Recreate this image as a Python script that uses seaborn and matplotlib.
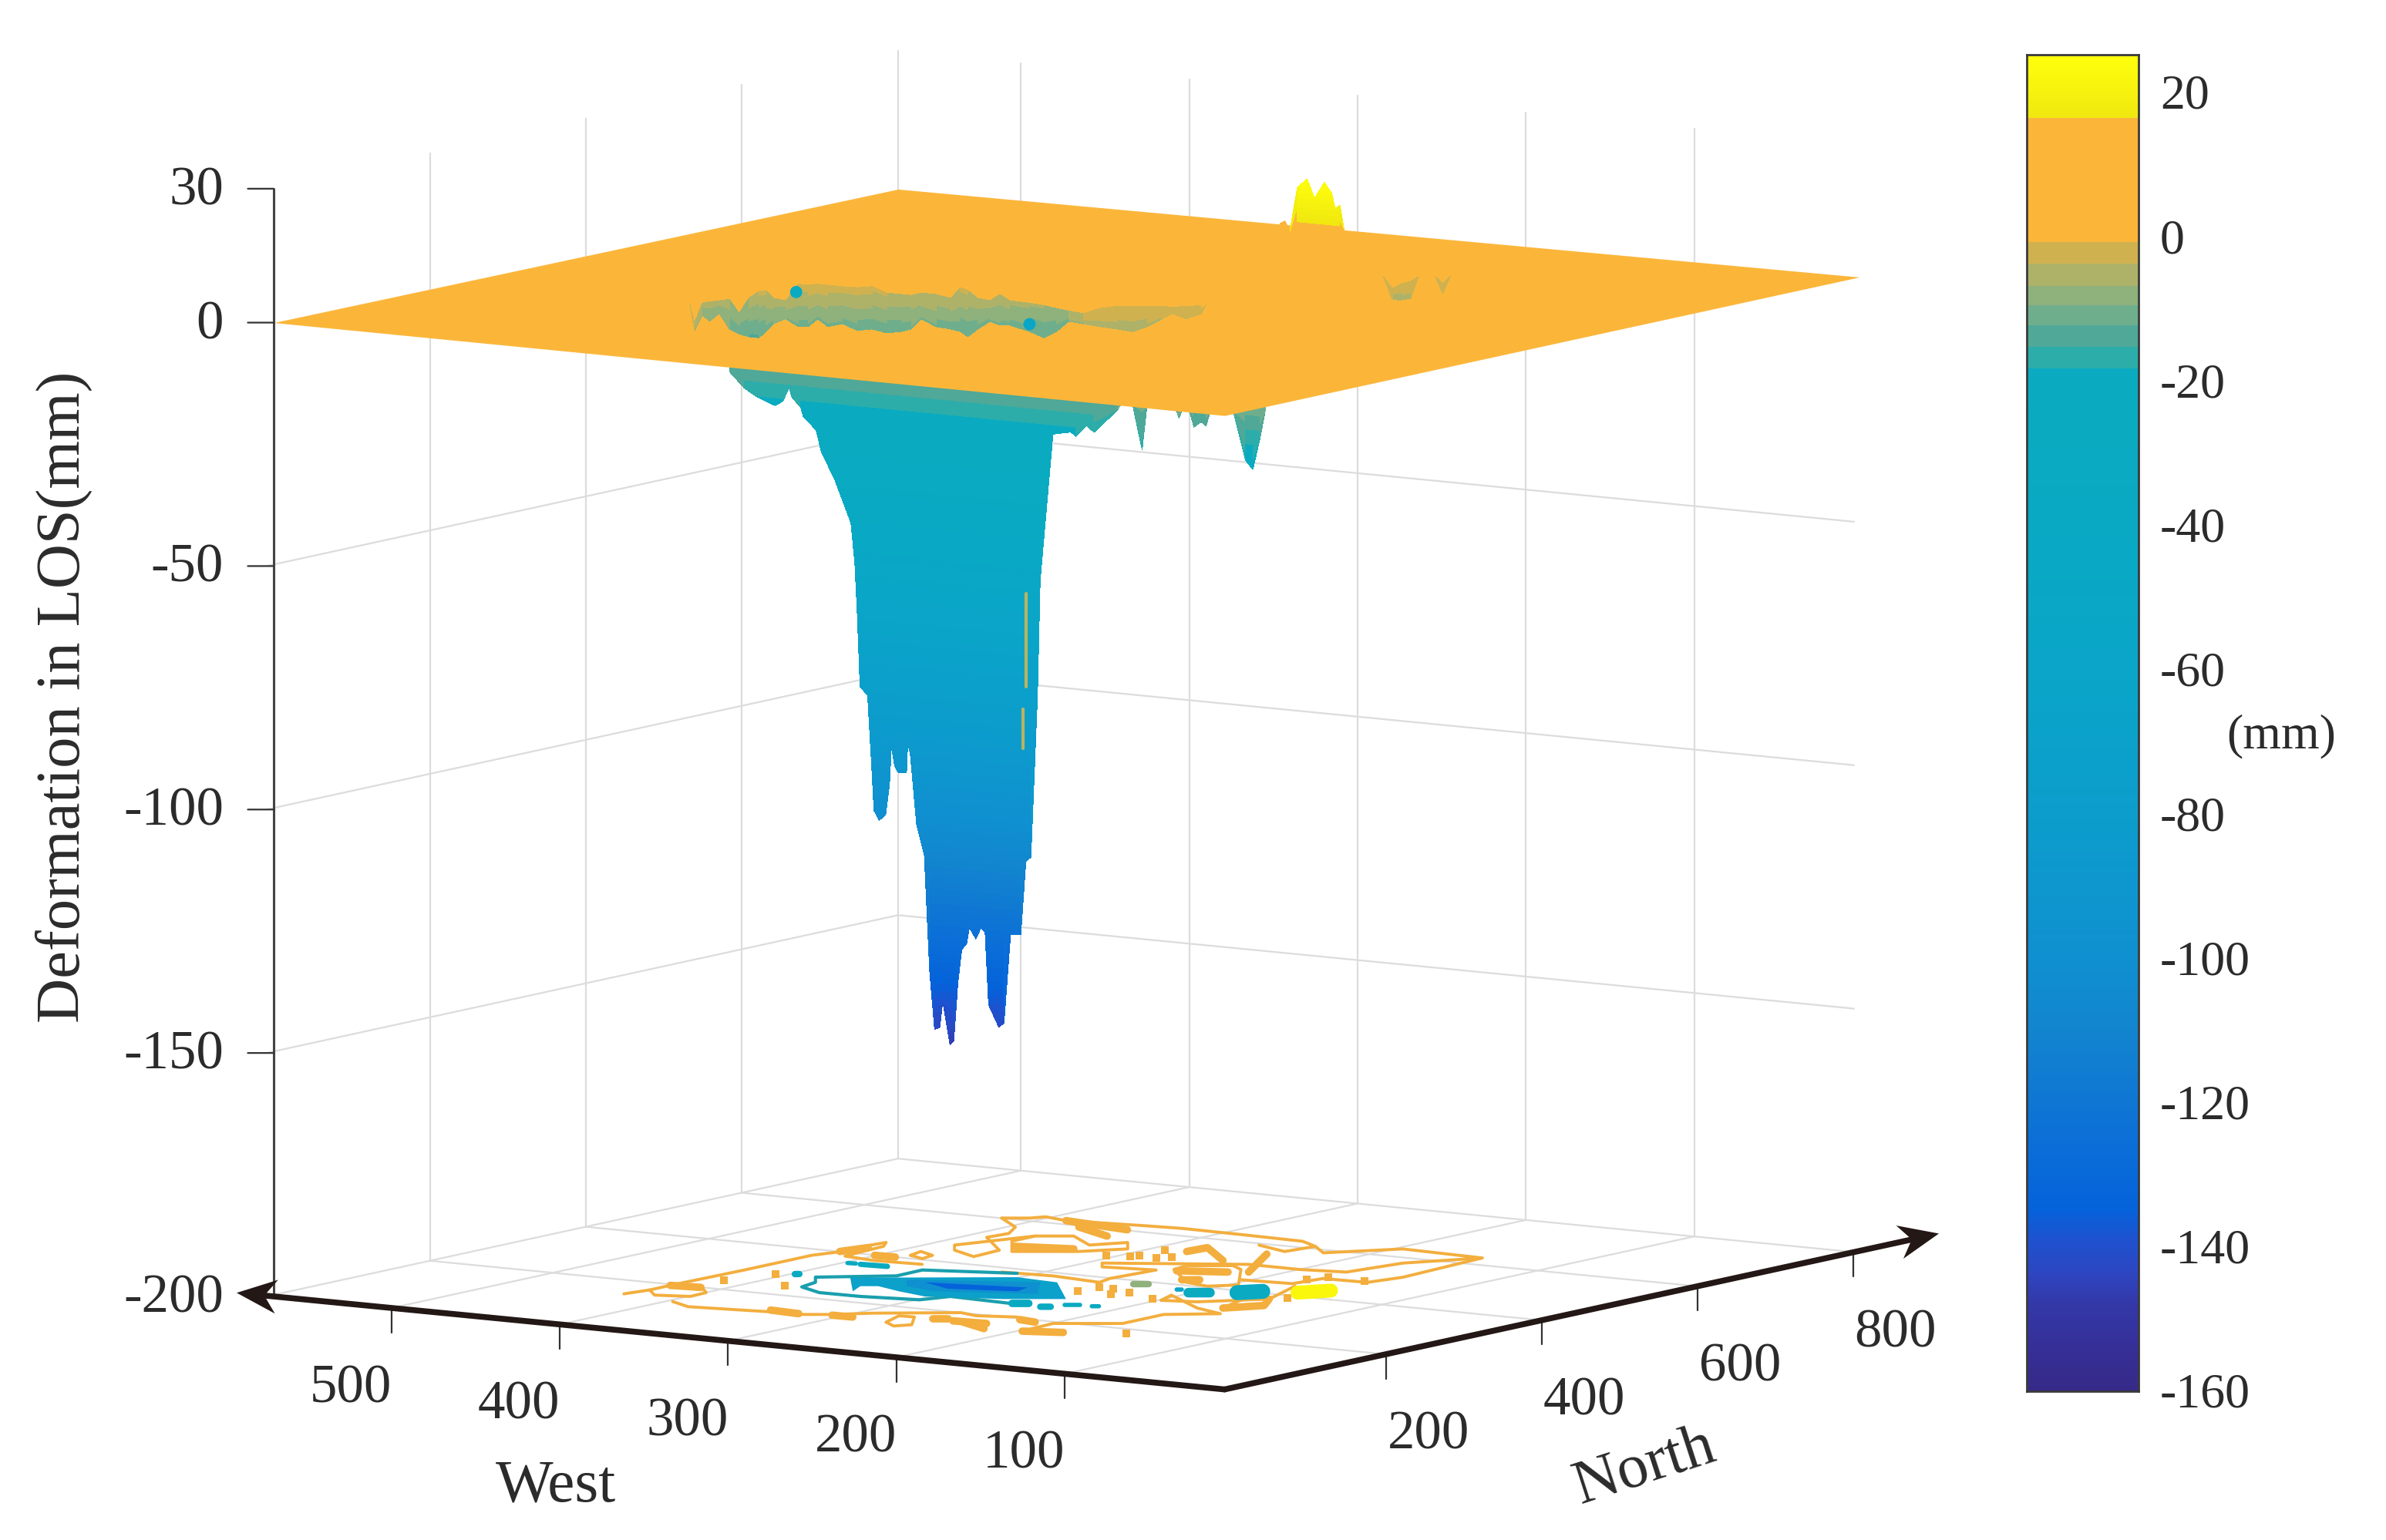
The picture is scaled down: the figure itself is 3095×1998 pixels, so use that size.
# Superficie de deformacion LOS con contornos en el plano base
import numpy as np
import matplotlib
matplotlib.use("Agg")
import matplotlib.pyplot as plt
import seaborn as sns
from matplotlib.colors import LinearSegmentedColormap, Normalize
from matplotlib.lines import Line2D
from matplotlib.patches import Polygon
from mpl_toolkits.mplot3d import proj3d
from mpl_toolkits.mplot3d.art3d import Poly3DCollection

W_PX, H_PX = 3095, 1998

# West / North are read from the front corner of the box, ticks shift by 5 and 7
west_ticks = [100, 200, 300, 400, 500]
north_ticks = [200, 400, 600]
z_ticks = [27.5, 0, -50, -100, -150]
z_tick_labels = ["30", "0", "-50", "-100", "-150"]
cbar_ticks = [20, 0, -20, -40, -60, -80, -100, -120, -140, -160]

cmap_values = [-160, -155, -148, -144, -139, -135, -127, -118, -110, -100, -80, -60, -40, -18.3,
               -18.3, -15.4, -15.4, -12.5, -12.5, -9.6, -9.6, -6.8, -6.8, -3.9, -3.9, -0.9,
               -0.9, 16.5, 16.5, 25]
cmap_colors = ["#362a88", "#362e95", "#3338a8", "#2e45c0", "#1e52cf", "#0562da", "#0a6dd8",
               "#1079d2", "#1285cf", "#0f90d0", "#0c9dcc", "#0aa5c8", "#09a9c3", "#0aabc0",
               "#2cadaa", "#2cadaa", "#4fa898", "#4fa898", "#6fae8c", "#6fae8c", "#8fb17c",
               "#8fb17c", "#aeb269", "#aeb269", "#cfb24f", "#cfb24f", "#fbb63a", "#fbb63a",
               "#f0e80f", "#ffff0c"]

# Flat part of the surface, corners of the box as drawn
plane_west = [[0, 565], [0, 568]]
plane_north = [[0, 0], [815, 808]]
plane_z = [[0, 0], [0, -0.9]]

# Lower outline of the subsidence funnel, seen from the front
pit_north = 250
pit_west = [410, 401.2, 393.5, 382.8, 378.3, 374.4, 372.9, 367.5, 366, 358.4, 355.3, 347.6,
            337.7, 335.4, 333.9, 332.3, 327.8, 325.4, 324, 320.9, 317.1, 314.8, 313.7, 311.7,
            309.4, 304.7, 304, 302.5, 298.7, 294.1, 291, 288, 284.9, 283.2, 278.8, 276.6,
            274.2, 271.9, 268.9, 267.4, 263.5, 260.4, 258, 255.9, 249.8, 246.8, 242.9, 236.8,
            233.8, 230.8, 226.9, 225.3, 217.7, 207, 204, 197.7, 193.2, 179.5, 176.5, 170.5,
            164.7, 161.8, 145.7, 142.8, 139.8, 136.9, 133.9, 129.6, 126.7, 123.7, 110.6, 103.3,
            98.9, 94.5, 91.6]
pit_depth = [-13.5, -16.6, -18.2, -19.6, -18.6, -15.7, -17.5, -19.5, -21.3, -23.8, -28.2, -33.4,
             -42.2, -50.3, -61.1, -75.6, -77.3, -91.7, -100.8, -102.7, -101.4, -95, -87.3, -91.3,
             -92.6, -92.4, -86.4, -88.3, -102.7, -108.9, -132.4, -144.5, -144, -138.5, -147.4, -146.4,
             -134.5, -127.6, -126.2, -122.9, -125.1, -122.7, -123.5, -138.4, -142.8, -141.8, -123.5, -123.3,
             -108.2, -107.2, -73.9, -50.2, -19.9, -19.1, -19.9, -17.5, -18.7, -13.7, -12, -12,
             -21.3, -12, -11.5, -14, -11.5, -12, -15.6, -14.4, -15.1, -11.5, -11.5, -21.4,
             -23.1, -16.3, -10.9]

# Inner wall of the funnel, visible through the opening in the plane
hole_west = [434.2, 432.3, 480.7, 477.6, 473.6, 469.5, 465.5, 461.5, 457.4, 454.4, 451.4, 446.3,
             441.3, 437.2, 433.2, 429.1, 423.1, 417, 411, 404.9, 398.8, 394.8, 390.8, 384.7,
             378.6, 374.6, 371.6, 367.5, 362.5, 358.4, 354.4, 346.3, 340.3, 335.2, 330.2, 272.7,
             265.6, 258.6, 252.5, 246.5, 240.4, 236.3, 230.4, 224.2, 222.3]
hole_north = [251.6, 253.5, 367.9, 370.8, 374.7, 378.6, 382.5, 386.4, 390.3, 393.3, 396.2, 401.1,
              406, 409.9, 413.8, 417.7, 423.5, 429.4, 435.3, 441.1, 447, 450.9, 454.8, 460.6,
              466.5, 470.4, 473.3, 477.2, 482.1, 486, 489.9, 497.8, 503.6, 508.5, 513.4, 407.8,
              414.7, 421.5, 427.4, 433.2, 439.1, 443, 448.8, 454.7, 456.6]
hole_top = [-0.5, -4.5, -6, -5.7, -5.5, -5.2, -8.1, -5, -3.6, -3.4, -5, -5.5,
            -2.1, -2.3, -2.1, -2.3, -2.6, -2.8, -2.6, -3.9, -4.2, -4.4, -3.9, -4.2,
            -5, -2.8, -3.4, -5, -5.5, -4.2, -5.5, -6, -6.5, -7.1, -7.6, -2.5,
            -1.4, -1, -1, -1, -1, -1.2, -1, -0.9, -0.5]
hole_bottom = [-0.5, -6, -8.4, -9.7, -8.1, -11.3, -12.3, -12.9, -13.1, -11.8, -10.2, -9.2,
               -10.8, -10.8, -9.2, -10.8, -10.2, -11.6, -11.3, -12.1, -11.8, -11.3, -9.2, -10.8,
               -11.3, -11.8, -12.9, -11.3, -9.7, -10.5, -10.5, -11.8, -13.1, -11.8, -9.7, -4.6,
               -5.2, -5.7, -6.2, -5.2, -3.6, -2.5, -3.6, -2.5, -0.5]

# Small faint patches further right on the plane
patch1_west = [201.1, 197.4, 193.5, 189.8, 186.7]
patch1_north = [638.2, 641.8, 645.5, 649.1, 652.1]
patch1_top = [-0.5, -3, -2, -1.5, -0.5]
patch1_bottom = [-0.5, -5.3, -5.3, -5, -0.5]
patch2_west = [179.8, 176.7, 173.6]
patch2_north = [658.8, 661.8, 664.8]
patch2_top = [-0.5, -2, -0.5]
patch2_bottom = [-0.5, -4, -0.5]

# Two deep spots seen inside the opening: west, north, height, value
spot_west = [442, 346.3]
spot_north = [405, 497.8]
spot_z = [-3.7, -10.3]
spot_value = [-30, -55]

# Uplift peaks near the back edge
peak_north = 500
peak_west = [204.2, 198.5, 195.6, 192.7, 188.2, 182.4, 178, 172.1, 167.8, 165.7, 162.8, 160.5, 157.6, 154]
peak_height = [0, 15.3, 15.9, 13.8, 23, 25, 21.2, 24.6, 22.6, 19.5, 20.2, 15.5, 9.7, 0]

# Thin orange slivers on the funnel wall
sliver_west = [233.5, 235.5]
sliver_top = [-53.2, -76.9]
sliver_bottom = [-72.3, -85.1]

# Contours on the base plane (west, north)
orange_lines = [
    ([422.9, 423.1, 409.1, 394.8, 394, 411.2, 422.9], [175.6, 205.6, 211.6, 187.5, 165.8, 156.7, 175.6]),
    ([426.2, 422.9], [149.7, 175.6]),
    ([423.1, 421.6, 421.6, 416.3, 417.4, 415.2, 409, 407.8, 406.5, 386.6, 359.3],
     [205.6, 294.7, 380.8, 408.7, 437.7, 462.6, 445.9, 416.8, 390.9, 384.4, 388.1]),
    ([381, 384.1, 372, 369.9, 381], [420.1, 439.8, 428.8, 411.1, 420.1]),
    ([391.7, 375.6, 332.2, 315.7, 302, 287.5, 252.6, 240.5, 221.2],
     [137.7, 123, 134.7, 135.4, 148.7, 170.3, 207.1, 200.6, 211.7]),
    ([265.3, 272.1, 263.4, 250, 255, 265.3], [138.8, 170, 170.9, 138.6, 126.2, 138.8]),
    ([413.7, 402.1, 398.1, 382.5, 371.6, 340.1, 320.5, 283, 246.6, 231.7, 234.7, 257.3],
     [607.7, 618.9, 630.3, 622.8, 625.8, 633.5, 637.3, 635.7, 633, 617.2, 584.1, 600.1]),
    ([231.7, 216.4, 191, 141.5, 164.4, 170.7, 194.5, 225.3, 287.9, 280.6, 252.6, 255.7, 252.7, 283.8, 312.2],
     [617.2, 594.2, 641.5, 636.4, 584, 525.1, 517.1, 517.6, 464.7, 449.1, 457.9, 405.1, 385.4, 393.1, 388.4]),
    ([366, 366.2, 350.3, 327, 316.1, 304, 319.2, 346.7, 366],
     [517.8, 547.9, 563.2, 532.8, 558.5, 532.4, 502.5, 476, 517.8]),
    ([413.7, 391.2, 381.8, 383.6, 354.3, 352.7, 372.7, 382.3, 366.2],
     [607.7, 576.6, 547.9, 523.4, 476.3, 439.9, 458.5, 479.3, 547.9]),
    ([246.2, 248.3, 229.3, 218.8, 190.8, 201.1, 216.8, 246.2],
     [467.1, 487.9, 506.3, 493.7, 430, 412.5, 420, 467.1]),
    ([199.5, 171.1, 168.1, 142.8, 137.8, 141.5], [451.9, 456.7, 489.8, 491.4, 526.6, 636.4]),
    ([151.6, 141.6, 153.7, 163.5, 151.6], [384.8, 356.6, 329.9, 380.8, 384.8]),
    ([193.5, 199, 164.2, 144.1, 165.9, 165.9, 194.4, 192.8], [336.7, 361.7, 319.7, 305.9, 280.3, 227.4, 199.9, 163.6]),
    ([151.6, 165.2], [384.8, 447.2]),
    ([199, 193.5, 176, 151.6], [361.7, 336.7, 345, 384.8]),
]
orange_thick = [
    ([423.1, 406.7], [202.5, 206.4]),
    ([335.5, 317.2], [142, 138.6]),
    ([300.6, 288.7], [145.6, 146.4]),
    ([233.6, 213.1], [169.4, 151.5]),
    ([240.3, 221.7], [170.5, 173.4]),
    ([417.3, 412.9], [407.6, 434.6]),
    ([395.8, 383.9], [405.8, 406.7]),
    ([252.6, 246.3], [170.8, 176.9]),
    ([355.2, 326.1], [497.9, 511]),
    ([365.1, 336.6], [601.8, 576.4]),
    ([242.8, 219.3], [463, 478.2]),
    ([223.8, 216.4], [428.4, 435.5]),
    ([274.9, 273.6, 243.1], [545.3, 569.2, 523.1]),
    ([210.8, 237.2], [486.3, 566.6]),
    ([192.6, 173.3], [156.3, 167.4]),
    ([215.3, 204.2], [202.3, 198]),
    ([151.6, 141.6, 153.7], [384.8, 356.6, 329.9]),
    ([382.5, 340.1], [622.8, 610]),
]
orange_dot_west = [401.6, 410.1, 375.7, 244.7, 243.1, 234.9, 226.2, 221, 300.8, 287.1, 288.4, 270.5, 286.2,
                   275.4, 199.6, 146.6, 145, 172.6, 146.4, 168.4]
orange_dot_north = [291.3, 243.7, 246.8, 340.1, 364.5, 364.9, 343, 355.5, 497.6, 510.9, 502.1, 516.3, 542,
                    507, 338.4, 397.1, 187.2, 477.9, 495.6, 497]

# Outer teal contour of the funnel
teal_west = [303.4, 348.6, 348.1, 379, 369.3, 366.2, 348.4, 324.3, 293.7, 287.3, 245.4]
teal_north = [389.3, 365.1, 330.9, 293.6, 272.7, 248.4, 232.4, 233.1, 243, 268.8, 263.9]

# Dense contour bands around the deepest part, value and outline
band_values = [-70, -100, -135]
band_west = [
    [363.7, 296.1, 270.1, 235, 261.4, 297.9, 318, 336.2, 343.6, 337],
    [336.7, 277, 256.3, 303.3, 324.6],
    [324.4, 272.6, 269.5, 302.9],
]
band_north = [
    [305.2, 373.6, 368.5, 304.2, 278.7, 258.6, 269.2, 281.9, 274.8, 250.8],
    [319.3, 361.9, 313.9, 283.5, 293.2],
    [316, 335.9, 316.1, 299.1],
]

# Short coloured pieces of contour: west pair, north pair, value, width
dash_west = [(152.1, 142.2), (176.9, 168.7), (196.9, 188), (235.1, 228.8), (231.1, 226.8), (224.9, 218.6),
             (210.9, 208), (207.5, 205.4), (249, 242.1), (392.4, 388), (384.7, 369.7), (393.2, 391.5)]
dash_north = [(422.1, 443.8), (398.1, 413.5), (378.8, 387.4), (390.3, 396.4), (262.7, 266.8), (280.7, 286.8),
              (285.2, 288.1), (386.8, 388.8), (265.1, 271.7), (363.7, 365), (363.6, 365.9), (297.9, 300)]
dash_value = [22, -30, -28, -9, -30, -25, -25, -60, -35, -25, -25, -25]
dash_width = [13, 14, 9, 6, 6, 4, 4, 4, 7, 4, 5, 6]

sns.set_theme(style="white")
plt.rcParams["font.family"] = ["Liberation Serif", "DejaVu Serif"]

cmap = LinearSegmentedColormap.from_list(
    "los", [((v + 160) / 185, c) for v, c in zip(cmap_values, cmap_colors)], N=2048)
norm = Normalize(-160, 25)

DARK = "#231815"
GRID = "#dcdcdc"
TEXT = "#2b2b2b"
CONTOUR = "#f3ae3e"
WALL_W, WALL_N = 568, 808

fig = plt.figure(figsize=(W_PX / 100, H_PX / 100), dpi=100, facecolor="white")
ax = fig.add_axes([0, 0, 1, 1], projection="3d", proj_type="ortho", computed_zorder=False)
ax.view_init(elev=8.4, azim=-56.2)
ax.set_box_aspect((752, 750, 736))
ax.set_xlim(565, 0)
ax.set_ylim(0, 815)
ax.set_zlim(-200, 27.5)
ax.set_axis_off()


def to_px(w, n, z):
    x, y, _ = proj3d.proj_transform(w, n, z, ax.get_proj())
    return ax.transData.transform((x, y))


# Fit the box to the reference corners
fig.canvas.draw()
left0 = to_px(565, 0, -200)
right0 = to_px(0, 815, -200)
scale = (2412 - 355) / (right0[0] - left0[0])
bb = ax.get_window_extent()
cx0, cy0 = (bb.x0 + bb.x1) / 2, (bb.y0 + bb.y1) / 2
size = bb.width * scale
cx = 355 - (left0[0] - cx0) * scale
cy = (H_PX - 1682) - (left0[1] - cy0) * scale
ax.set_position([(cx - size / 2) / W_PX, (cy - size / 2) / H_PX, size / W_PX, size / H_PX])
fig.canvas.draw()

# ---------- walls and floor ----------
wt = [v - 5 for v in west_ticks]
nt = [v + 7 for v in north_ticks]
grid_kw = dict(color=GRID, lw=1.6, zorder=1)
for w in wt:
    ax.plot([w, w], [0, WALL_N], [-200, -200], **grid_kw)
    ax.plot([w, w], [WALL_N, WALL_N], [-200, 27.5], **grid_kw)
for n in nt:
    ax.plot([0, WALL_W], [n, n], [-200, -200], **grid_kw)
    ax.plot([WALL_W, WALL_W], [n, n], [-200, 27.5], **grid_kw)
ax.plot([WALL_W, 0], [WALL_N, WALL_N], [-200, -200], **grid_kw)
ax.plot([WALL_W, WALL_W], [0, WALL_N], [-200, -200], **grid_kw)
ax.plot([WALL_W, WALL_W], [WALL_N, WALL_N], [-200, 27.5], **grid_kw)
for z in [-50, -100, -150]:
    ax.plot([WALL_W, WALL_W], [0, WALL_N], [z, z], **grid_kw)
    ax.plot([WALL_W, 0], [WALL_N, WALL_N], [z, z], **grid_kw)

# ---------- contours on the floor ----------
for w, n in orange_lines:
    ax.plot(w, n, [-200] * len(w), color=CONTOUR, lw=2.8, zorder=1.5)
for w, n in orange_thick:
    ax.plot(w, n, [-200] * len(w), color=CONTOUR, lw=7, zorder=1.5)
ax.scatter(orange_dot_west, orange_dot_north, [-200] * len(orange_dot_west), s=50, marker="s",
           color=CONTOUR, depthshade=False, zorder=1.5, linewidths=0)
ax.plot(teal_west, teal_north, [-200] * len(teal_west), color="#1a9fae", lw=3, zorder=1.6)
for value, bw, bn in zip(band_values, band_west, band_north):
    verts = [list(zip(bw, bn, [-200] * len(bw)))]
    poly = Poly3DCollection(verts, facecolor=cmap(norm(value)), edgecolor="none", zorder=1.7)
    ax.add_collection3d(poly, autolim=False)
for dw, dn, value, width in zip(dash_west, dash_north, dash_value, dash_width):
    ax.plot(dw, dn, [-200, -200], color=cmap(norm(value)), lw=width, zorder=1.8)

# ---------- funnel below the plane ----------
surf_kw = dict(cmap=cmap, norm=norm, rstride=1, cstride=1, linewidth=0, antialiased=False, shade=False)
levels = np.arange(0, -161, -1.5)
pit_d = np.array(pit_depth)
pit_z = np.maximum(levels[:, None], pit_d[None, :])
pit_x = np.tile(np.array(pit_west), (len(levels), 1))
pit_y = np.full_like(pit_x, pit_north)
ax.plot_surface(pit_x, pit_y, pit_z, zorder=2, **surf_kw)
for w, top, bottom in zip(sliver_west, sliver_top, sliver_bottom):
    ax.plot([w, w], [pit_north, pit_north], [top, bottom], color="#b9b45f", lw=3, zorder=2.1)

# ---------- flat plane ----------
ax.plot_surface(np.array(plane_west, dtype=float), np.array(plane_north, dtype=float),
                np.array(plane_z, dtype=float), zorder=3, **surf_kw)


# ---------- opening in the plane ----------
def curtain(west, north, top, bottom, zorder):
    fracs = np.linspace(0, 1, 13)
    t = np.array(top)
    b = np.array(bottom)
    z = t[None, :] + fracs[:, None] * (b - t)[None, :]
    x = np.tile(np.array(west), (len(fracs), 1))
    y = np.tile(np.array(north), (len(fracs), 1))
    ax.plot_surface(x, y, z, zorder=zorder, **surf_kw)


curtain(hole_west, hole_north, hole_top, hole_bottom, 4)
curtain(patch1_west, patch1_north, patch1_top, patch1_bottom, 4)
curtain(patch2_west, patch2_north, patch2_top, patch2_bottom, 4)
ax.scatter(spot_west, spot_north, spot_z, s=130, c=spot_value, cmap=cmap, norm=norm,
           depthshade=False, zorder=4.1, linewidths=0)

# ---------- uplift peaks ----------
peak_levels = np.arange(0, 26, 1.0)
peak_h = np.array(peak_height)
peak_z = np.minimum(peak_levels[:, None], peak_h[None, :])
peak_x = np.tile(np.array(peak_west), (len(peak_levels), 1))
peak_y = np.full_like(peak_x, peak_north)
ax.plot_surface(peak_x, peak_y, peak_z, zorder=4.2, **surf_kw)

# ---------- axes ----------
tick_kw = dict(color="#333333", lw=1.6, zorder=5)
for w in wt:
    ax.plot([w, w], [0, 0], [-200, -205], **tick_kw)
for n in nt + [807]:
    ax.plot([0, 0], [n, n], [-200, -205], **tick_kw)
ax.plot([565, 565], [0, 0], [-200, 27.5], color="#444444", lw=2.2, zorder=5)
for z in z_ticks:
    ax.plot([565, 575.6], [0, -10.3], [z, z], **tick_kw)


def label(x, y, s, size, **kw):
    # x, y in pixels from the top left corner
    fig.text(x / W_PX, 1 - y / H_PX, s, fontsize=size, color=TEXT, ha=kw.pop("ha", "center"),
             va=kw.pop("va", "center"), **kw)


for v, w in zip(west_ticks, wt):
    p = to_px(w, 0, -200)
    label(p[0] - 53, H_PX - p[1] + 105, str(v), 51)
for v, n in zip(north_ticks + [800], nt + [807]):
    p = to_px(0, n, -200)
    label(p[0] + 55, H_PX - p[1] + 105, str(v), 51)
for s, z in zip(z_tick_labels + ["-200"], z_ticks + [-200]):
    p = to_px(565, 0, z)
    label(p[0] - 65, H_PX - p[1] + 3, s, 51, ha="right")

label(721, 1929, "West", 57)
label(2134, 1903, "North", 58, rotation=18)
label(83, 904, "Deformation in LOS(mm)", 58, rotation=90)
label(2959, 955, "(mm)", 46)

# thick axis arrows from the front corner
front = to_px(0, 0, -200)
for tip in [to_px(587, 0, -200), to_px(0, 917, -200)]:
    u = (tip - front) / np.linalg.norm(tip - front)
    v = np.array([-u[1], u[0]])
    to_fig = np.array([W_PX, H_PX])
    fig.add_artist(Line2D([front[0] / W_PX, (tip - 30 * u)[0] / W_PX],
                          [front[1] / H_PX, (tip - 30 * u)[1] / H_PX],
                          color=DARK, lw=5.5, solid_capstyle="round", zorder=6))
    head = [tip, tip - 52 * u + 22 * v, tip - 36 * u, tip - 52 * u - 22 * v]
    fig.add_artist(Polygon([h / to_fig for h in head], closed=True, color=DARK, lw=0,
                           transform=fig.transFigure, zorder=6))

# ---------- colour bar ----------
cax = fig.add_axes([2629 / W_PX, 1 - 1805 / H_PX, 145 / W_PX, (1805 - 71) / H_PX])
step = 0.25
ramp = np.arange(25, -160 - step / 2, -step)
sns.heatmap(ramp[:, None], cmap=cmap, norm=norm, cbar=False, xticklabels=False, yticklabels=False, ax=cax)
for spine in cax.spines.values():
    spine.set_visible(True)
    spine.set_color("#3a3a3a")
    spine.set_linewidth(2)
cax.yaxis.tick_right()
cax.set_yticks([(25 - v) / step + 0.5 for v in cbar_ticks])
cax.set_yticklabels([str(v) for v in cbar_ticks], rotation=0, fontsize=46, color=TEXT)
cax.tick_params(axis="y", direction="in", length=13, width=1.6, color=DARK, pad=20, right=True, left=False)

fig.savefig("out.png", dpi=100, facecolor="white")
